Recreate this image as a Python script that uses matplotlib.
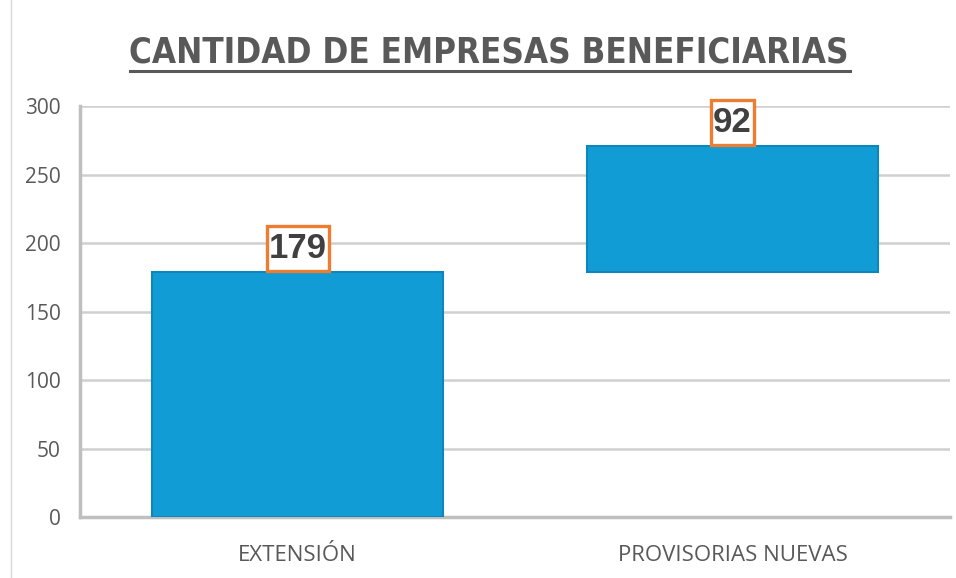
import matplotlib.pyplot as plt
from matplotlib.lines import Line2D
from matplotlib.patches import Rectangle

categorias = ['EXTENSIÓN', 'PROVISORIAS NUEVAS']
valores = [179, 92]
inicio = [0, 179]  # cascada: la segunda barra arranca donde termina la primera
yticks = [0, 50, 100, 150, 200, 250, 300]

fig = plt.figure(figsize=(9.56, 5.78), dpi=100)
ax = fig.add_axes([0.0837, 0.1055, 0.91, 0.711])

x = list(range(len(categorias)))
ax.bar(x, valores, bottom=inicio, width=0.667, color='#129CD6',
       edgecolor='#0F86BA', linewidth=1.5, zorder=3)

etiquetas = []
for i in x:
    t = ax.annotate(str(valores[i]), (i, inicio[i] + valores[i]), xytext=(0, 17),
                    textcoords='offset points', ha='center', va='center',
                    fontsize=25, fontweight='bold', color='#404040',
                    family='Liberation Sans', zorder=7, annotation_clip=False)
    etiquetas.append(t)

ax.set_xlim(-0.5, 1.5)
ax.set_ylim(0, 300)
ax.set_yticks(yticks)
ax.set_xticks(x)
ax.set_xticklabels(categorias, family='Open Sans', fontsize=16, color='#595959')
ax.tick_params(axis='y', labelsize=15, labelcolor='#595959', length=0, pad=14)
ax.tick_params(axis='x', length=0, pad=20)
for lab in ax.get_yticklabels():
    lab.set_family('Open Sans')

ax.grid(axis='y', color='#D0D0D0', linewidth=1.8, zorder=0)
for s in ['top', 'right']:
    ax.spines[s].set_visible(False)
ax.spines['left'].set_color('#BFBFBF')
ax.spines['left'].set_linewidth(2.5)
ax.spines['bottom'].set_color('#BFBFBF')
ax.spines['bottom'].set_linewidth(2.5)

# recuadro naranja: apoyado sobre la barra, un poco mas alto que el texto
fig.canvas.draw()
inv = fig.transFigure.inverted()
for i, t in zip(x, etiquetas):
    bb = t.get_window_extent()
    base = ax.transData.transform((i, inicio[i] + valores[i]))[1]
    x0, y0 = inv.transform((bb.x0 - 2, base + 1))
    x1, y1 = inv.transform((bb.x1 + 2, base + 46))
    ax.add_patch(Rectangle((x0, y0), x1 - x0, y1 - y0, transform=fig.transFigure,
                           fc='white', ec='#ED7D31', lw=2.4, zorder=5, clip_on=False))

fig.text(0.511, 0.91, 'CANTIDAD DE EMPRESAS BENEFICIARIAS', ha='center', va='center',
         fontsize=25, fontweight='bold', color='#595959',
         family='DejaVu Sans', fontstretch='condensed')
fig.add_artist(Line2D([0.136, 0.889], [0.877, 0.877], color='#595959', lw=2.2))
fig.add_artist(Line2D([0.011, 0.011], [0.0, 1.0], color='#D9D9D9', lw=1))

fig.savefig('out.png', dpi=100)
